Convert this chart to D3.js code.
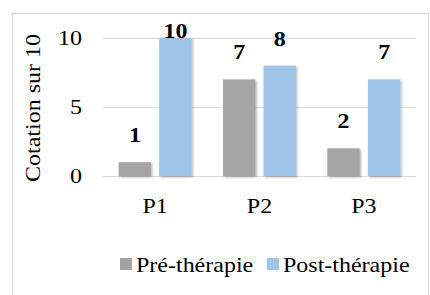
<!DOCTYPE html>
<html><head><meta charset="utf-8">
<script src="https://cdn.jsdelivr.net/npm/d3@7"></script>
<style>body{margin:0;background:#fff;} svg{display:block;}</style>
</head><body>
<svg id="c" width="430" height="295"></svg>
<script>
const categories = ["P1", "P2", "P3"];
const seriesNames = ["Pré-thérapie", "Post-thérapie"];
const preValues = [1, 7, 2];
const postValues = [10, 8, 7];
const yTicks = [0, 5, 10];
const colors = ["#a5a5a5", "#9dc3e6"];
const FONT = '"Liberation Serif"';

const svg = d3.select("#c");
const W = 430, H = 295;
const m = {left: 103, right: 14, top: 38, bottom: 119};

function addText(parent, x, y, str, opt = {}) {
  const g = parent.append("g").attr("transform",
    `translate(${x},${y})${opt.rotate ? " rotate(" + opt.rotate + ")" : ""} scale(1.2,1)`);
  return g.append("text").attr("x", 0).attr("y", 0)
    .attr("text-anchor", opt.anchor || "start")
    .style("font-family", FONT).style("font-size", (opt.size || 20) + "px")
    .style("font-weight", opt.bold ? "bold" : "normal").style("fill", "#000").text(str);
}

svg.append("rect").attr("x", 12.5).attr("y", 13.5).attr("width", 416).attr("height", 290)
  .attr("fill", "#fff").attr("stroke", "#d9d9d9").attr("stroke-width", 1);

const x0 = d3.scaleBand().domain(categories).range([m.left, W - m.right]).paddingInner(0.3).paddingOuter(0.15);
const x1 = d3.scaleBand().domain(seriesNames).range([0, x0.bandwidth()]).paddingInner(0.2);
const y = d3.scaleLinear().domain([0, 10]).range([H - m.bottom, m.top]);

// gridlines
const yAxis = d3.axisLeft(y).tickValues(yTicks).tickSize(-(W - m.left - m.right)).tickFormat("");
const gy = svg.append("g").attr("transform", `translate(${m.left},0)`).call(yAxis);
gy.select(".domain").remove();
gy.selectAll(".tick line").attr("stroke", "#d9d9d9").attr("stroke-width", 1);
yTicks.forEach(t => addText(svg, 82, y(t) + 7, d3.format("d")(t), {anchor: "end"}));

const defs = svg.append("defs");
const f = defs.append("filter").attr("id", "sh").attr("x", "-20%").attr("y", "-10%").attr("width", "150%").attr("height", "130%");
f.append("feDropShadow").attr("dx", 1.2).attr("dy", 1.2).attr("stdDeviation", 1.2).attr("flood-color", "#000").attr("flood-opacity", 0.3);

const data = categories.map((c, i) => ({cat: c, vals: [preValues[i], postValues[i]]}));
const g = svg.append("g");
data.forEach(d => {
  d.vals.forEach((v, j) => {
    const xx = x0(d.cat) + x1(seriesNames[j]);
    g.append("rect").attr("x", xx).attr("y", y(v)).attr("width", x1.bandwidth())
      .attr("height", y(0) - y(v)).attr("fill", colors[j]).attr("filter", "url(#sh)");
  });
});
data.forEach(d => {
  d.vals.forEach((v, j) => {
    const xx = x0(d.cat) + x1(seriesNames[j]);
    addText(svg, xx + x1.bandwidth() / 2, Math.max(y(v) - 20, m.top), v, {anchor: "middle", bold: true});
  });
});

// x axis labels
categories.forEach(c => addText(svg, x0(c) + x0.bandwidth() / 2, y(0) + 37, c, {anchor: "middle"}));

// y title
addText(svg, 40, (y(0) + y(10)) / 2 + 1, "Cotation sur 10", {anchor: "middle", rotate: -90});

// legend
const legX = [120, 267];
seriesNames.forEach((s, j) => {
  svg.append("rect").attr("x", legX[j]).attr("y", 258).attr("width", 12).attr("height", 12).attr("fill", colors[j]);
  addText(svg, legX[j] + 16, 272, s);
});
</script>
</body></html>
